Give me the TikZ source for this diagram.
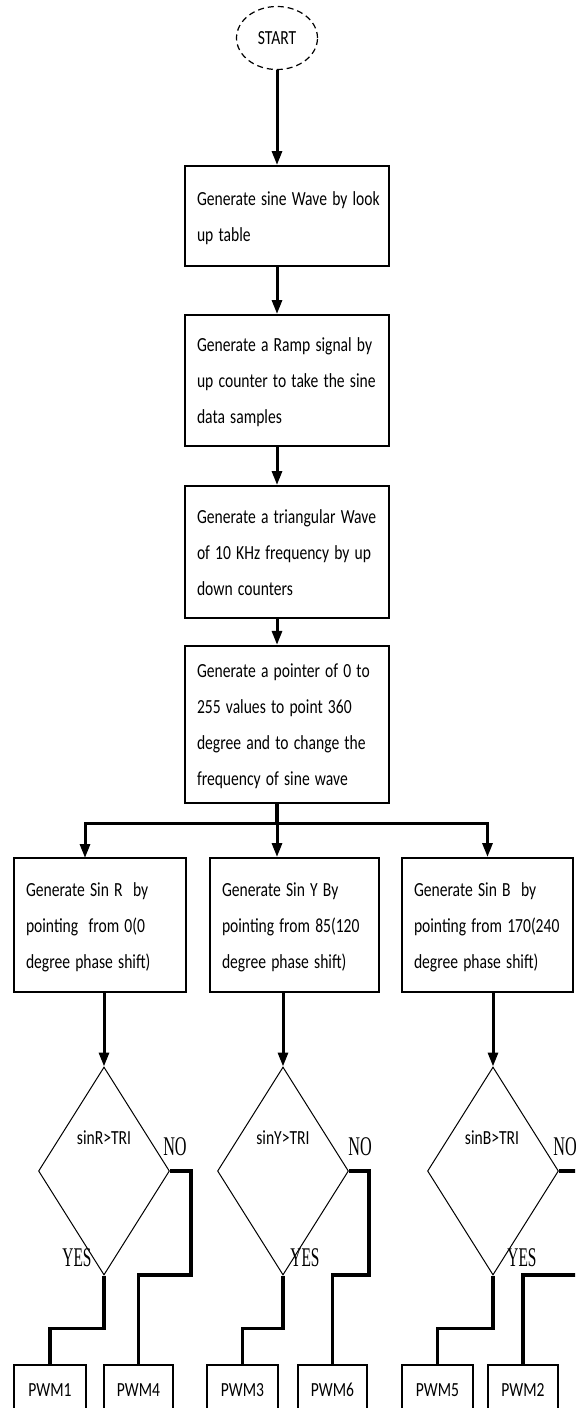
\documentclass[tikz,border=0pt]{standalone}
\usepackage{fontspec}
\usepackage{graphicx}
\newfontfamily\boxfont{Carlito}
\newfontfamily\ynfont{Liberation Serif}
% narrow text, as in the original drawing
\newcommand{\squeeze}[1]{\scalebox{0.78}[1]{\begin{tabular}{@{}l@{}}#1\end{tabular}}}
\newcommand{\narrow}[2][0.78]{\scalebox{#1}[1]{#2}}
\usetikzlibrary{shapes.geometric,arrows.meta}

\begin{document}
\begin{tikzpicture}[x=0.5pt,y=-0.5pt,
  every node/.style={font=\boxfont\fontsize{10}{18}\selectfont},
  startnode/.style={draw,ellipse,densely dashed,line width=0.6pt,minimum width=40.5pt,minimum height=31.5pt,inner sep=0pt},
  stepbox/.style={draw,line width=1pt,align=left,inner xsep=6pt},
  decision/.style={draw,diamond,line width=0.5pt,minimum width=65.5pt,minimum height=104pt,inner sep=0pt},
  pwm/.style={draw,line width=0.8pt,minimum height=25pt,inner sep=0pt},
  cond/.style={inner sep=0pt},
  yn/.style={font=\ynfont\fontsize{13.5}{15}\selectfont,inner sep=0pt},
  arr/.style={line width=1.5pt,-{Triangle[length=7pt,width=5pt]}},
  wire/.style={line width=1.6pt}]
\useasboundingbox (0,0) rectangle (575,1408);
\clip (0,0) rectangle (575,1408);
% start
\node[startnode] (start) at (277,38) {\narrow{START}};
% process boxes
\node[stepbox,text width=90pt,minimum height=50pt] (gen1) at (287,216) {\squeeze{Generate sine Wave by look\\up table}};
\node[stepbox,text width=90pt,minimum height=65.5pt] (gen2) at (287,380.5) {\squeeze{Generate a Ramp signal by\\up counter to take the sine\\data samples}};
\node[stepbox,text width=90pt,minimum height=66pt] (gen3) at (287,552) {\squeeze{Generate a triangular Wave\\of 10 KHz frequency by up\\down counters}};
\node[stepbox,text width=90pt,minimum height=77.5pt] (gen4) at (287,724.5) {\squeeze{Generate a pointer of 0 to\\255 values to point 360\\degree and to change the\\frequency of sine wave}};
% phase boxes
\node[stepbox,text width=74pt,minimum height=67pt] (sinR) at (100,925) {\squeeze{Generate Sin R\ \ by\\pointing\ \ from 0(0\\degree phase shift)}};
\node[stepbox,text width=72.5pt,minimum height=67pt] (sinY) at (294.5,925) {\squeeze{Generate Sin Y By\\pointing from 85(120\\degree phase shift)}};
\node[stepbox,text width=73.5pt,minimum height=67pt] (sinB) at (487.5,925) {\squeeze{Generate Sin B\ \ by\\pointing from 170(240\\degree phase shift)}};
% decisions
\node[decision] (decR) at (104,1171) {};
\node[decision] (decY) at (283,1171) {};
\node[decision] (decB) at (493,1171) {};
\node[cond] (cR) at (104,1138) {\narrow{sinR>TRI}};
\node[cond] (cY) at (283,1138) {\narrow{sinY>TRI}};
\node[cond] (cB) at (492,1138) {\narrow{sinB>TRI}};
% outputs
\node[pwm,minimum width=36pt] (pwm1) at (50,1390) {\narrow{PWM1}};
\node[pwm,minimum width=34.5pt] (pwm4) at (138.5,1390) {\narrow{PWM4}};
\node[pwm,minimum width=35.5pt] (pwm3) at (242.5,1390) {\narrow{PWM3}};
\node[pwm,minimum width=34.5pt] (pwm6) at (332.5,1390) {\narrow{PWM6}};
\node[pwm,minimum width=35.5pt] (pwm5) at (437.5,1390) {\narrow{PWM5}};
\node[pwm,minimum width=35pt] (pwm2) at (523,1390) {\narrow{PWM2}};
% yes/no
\node[yn] (noR) at (175,1147) {\narrow[0.6]{NO}};
\node[yn] (yesR) at (77,1258) {\narrow[0.57]{YES}};
\node[yn] (noY) at (360,1147) {\narrow[0.6]{NO}};
\node[yn] (yesY) at (305,1258) {\narrow[0.57]{YES}};
\node[yn] (noB) at (565,1147) {\narrow[0.6]{NO}};
\node[yn] (yesB) at (522,1258) {\narrow[0.57]{YES}};
% main flow
\draw[arr] (start) -- (start |- gen1.north);
\draw[arr] (gen1.south -| start) -- (gen2.north -| start);
\draw[arr] (gen2.south -| start) -- (gen3.north -| start);
\draw[arr] (gen3.south -| start) -- (gen4.north -| start);
% split
\coordinate (split) at (277,823);
\coordinate (inR) at (85,858);
\draw[wire] (gen4.south -| start) -- (split);
\draw[arr] (split) -| (inR);
\draw[arr] (split) -- (sinY.north -| split);
\draw[arr] (split) -| (sinB.north);
% into decisions
\draw[arr] (decR.north |- sinR.south) -- (decR.north);
\draw[arr] (decY.north |- sinY.south) -- (decY.north);
\draw[arr] (decB.north |- sinB.south) -- (decB.north);
% yes / no branches
\draw[wire] (decR.south) -- ++(0,53) -| (pwm1.north);
\draw[wire] (decR.east) -- ++(21,0) -- ++(0,104) -| (pwm4.north);
\draw[wire] (decY.south) -- ++(0,53) -| (pwm3.north);
\draw[wire] (decY.east) -- ++(20,0) -- ++(0,104) -| (pwm6.north);
\draw[wire] (decB.south) -- ++(0,53) -| (pwm5.north);
\draw[wire] (decB.east) -- ++(20,0) -- ++(0,104) -| (pwm2.north);
\end{tikzpicture}
\end{document}
